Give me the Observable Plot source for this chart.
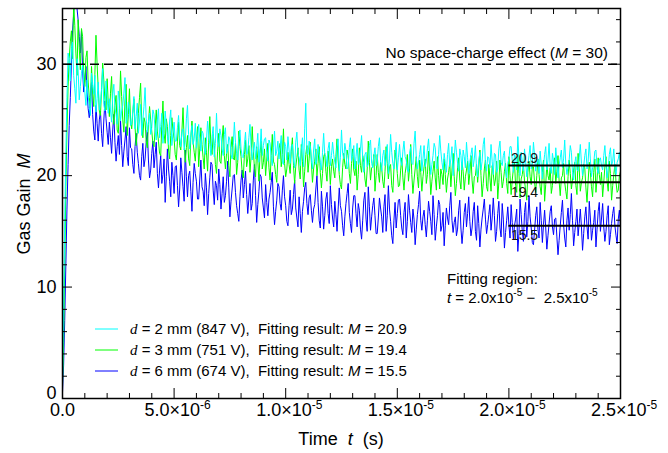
<!DOCTYPE html>
<html><head><meta charset="utf-8">
<script src="https://cdn.jsdelivr.net/npm/d3@7"></script>
<script src="https://cdn.jsdelivr.net/npm/@observablehq/plot@0.6"></script>
<style>
html,body{margin:0;padding:0;background:#fff;}
#chart svg{display:block;}
</style></head><body><div id="chart"></div>
<script>
// ---- data ----
const timeStep = 5e-8; // sampling interval of the traces (s)

const cyan2mm = [1.5,8,16,22,27,31,30.5,28.5,31.5,32,29,27.8,26.5,30.5,29.5,26.8,28,29.2,30,28.4,27.5,26.3,
28.6,27.2,26.1,25.4,29.2,28.1,27.3,29.0,25.7,26.9,28.4,25.9,26.5,27.8,29.6,26.4,25.8,28.5,27.0,25.6,
26.9,25.9,24.8,27.3,28.2,26.1,25.5,24.6,27.6,26.8,24.9,25.8,26.3,27.4,28.8,24.7,25.1,26.6,26.0,24.5,
24.6,25.8,27.1,24.2,25.3,26.5,23.8,24.9,26.4,23.6,25.0,26.2,27.9,25.1,23.9,24.8,25.6,23.7,24.3,25.9,
25.5,24.1,23.2,25.0,26.0,23.4,24.4,25.6,22.9,24.0,25.8,24.6,23.6,22.8,24.9,25.9,22.7,23.8,24.8,23.1,
23.1,24.3,25.4,23.5,22.6,23.9,24.2,22.3,23.0,25.1,26.3,23.7,22.4,23.6,24.5,22.8,23.3,24.7,22.5,23.4,
24.6,23.3,22.2,24.0,23.8,22.5,21.9,23.1,24.9,23.6,22.8,21.8,23.5,24.4,21.7,22.9,25.6,23.0,22.6,24.2,
23.6,22.4,21.8,23.7,24.3,22.0,22.3,23.5,23.2,21.9,21.5,22.7,24.8,23.0,22.0,21.4,23.4,24.1,22.4,21.7,
21.6,22.8,23.9,21.9,22.1,23.4,24.6,22.6,21.4,22.3,23.0,21.5,22.5,23.8,21.2,22.4,24.2,21.8,22.7,23.3,
23.4,22.1,21.3,23.2,22.9,21.6,20.9,22.5,24.0,21.8,22.2,23.1,21.5,22.6,23.6,21.2,21.0,23.0,22.6,21.4,
23.5,22.3,21.1,22.6,22.8,21.4,20.7,23.0,23.9,22.0,21.6,20.9,22.3,23.4,20.8,24.2,26.5,22.1,21.9,23.1,
22.7,21.5,20.6,22.3,23.3,21.0,21.4,22.8,22.0,21.2,20.5,22.1,23.8,21.9,21.7,20.8,22.4,23.0,20.9,21.8,
23.0,21.9,21.2,20.7,22.6,23.3,20.4,21.6,24.1,22.0,21.5,22.9,22.2,20.6,20.8,22.5,23.4,21.3,21.8,22.7,
20.6,21.7,22.9,21.0,21.3,22.4,23.6,21.5,20.3,21.9,22.1,20.8,21.0,22.7,23.2,21.1,20.7,21.8,22.5,20.9,
21.2,22.6,23.4,21.4,20.4,21.8,22.3,20.9,21.6,22.8,20.2,21.5,23.7,22.1,21.1,20.6,22.0,23.0,20.5,21.6,
22.8,21.3,20.9,22.2,23.1,21.7,21.4,20.5,20.3,22.0,22.6,21.1,21.0,22.9,24.0,21.6,20.6,21.2,21.9,22.7,
20.4,21.5,22.7,20.8,21.3,22.4,23.3,21.6,20.1,21.0,21.8,22.9,22.5,20.7,20.6,21.9,23.6,22.2,21.2,20.5,
22.0,21.1,20.3,21.9,22.9,20.8,21.5,22.6,20.0,21.3,23.2,22.1,21.1,20.4,22.4,21.8,20.5,22.3,21.7,20.7,
23.0,21.6,20.2,21.2,21.9,22.5,20.8,21.5,22.7,20.6,19.9,21.4,22.1,20.5,21.3,22.8,23.4,21.0,20.4,21.7,
21.6,20.7,22.8,21.3,20.1,22.0,21.9,20.3,20.6,22.4,23.1,21.2,20.9,21.8,22.2,20.4,19.8,21.1,21.5,22.6,
22.6,21.4,20.3,21.9,21.7,20.5,23.5,21.6,20.0,22.1,21.2,20.4,22.4,21.3,19.9,20.9,21.8,22.7,20.6,21.0,
23.0,21.8,20.4,21.1,21.5,20.2,22.2,21.0,19.7,20.9,21.9,22.6,20.5,21.4,22.9,20.8,20.2,22.0,21.3,20.1,
22.5,21.2,19.8,20.9,21.6,22.3,20.7,21.5,23.2,21.0,20.1,20.8,21.4,22.7,22.1,20.3,19.6,21.1,21.7,20.5,
20.4,21.6,22.8,21.1,20.0,20.8,21.8,22.4,20.6,21.3,23.0,21.5,19.9,20.7,21.1,22.2,22.3,20.6,20.2,21.4,
21.6,20.9,20.5,21.8,22.7,21.0,19.8,20.7,21.9,22.5,20.9,21.3,22.4,20.6,20.1,21.2,21.5,22.1,20.8];

const green3mm = [1.0,5,12,19,24,28,30.5,32,33,30.5,35.5,33.5,31,29.0,34,31.5,29.5,33.2,32.5,29.4,28,30.6,
31.2,28.4,27.0,26.1,29.8,27.5,26.2,29.1,32.6,30.0,27.9,25.8,25.4,27.7,30.1,28.6,26.8,25.9,28.7,26.5,
25.3,27.4,28.9,25.9,24.6,26.3,27.2,24.1,23.8,26.0,29.4,27.1,25.0,23.9,26.7,28.2,23.6,25.5,27.8,24.9,
24.2,25.6,26.9,24.4,22.7,23.9,25.6,27.0,28.3,24.7,23.4,25.2,24.8,23.1,22.5,24.6,26.2,25.0,24.0,22.9,
22.6,24.2,25.9,24.0,23.1,22.0,21.8,24.6,26.7,23.8,22.9,25.1,24.4,22.3,21.5,23.6,25.2,24.1,23.3,21.9,
21.4,23.1,24.8,22.7,22.3,24.0,26.1,23.2,21.2,22.5,23.6,21.5,20.9,23.4,24.9,23.0,22.1,21.3,23.0,24.4,
20.8,22.4,24.3,22.8,21.6,20.6,23.4,22.1,20.4,23.0,25.3,22.6,21.9,23.7,22.7,21.0,20.2,22.2,23.8,21.3,
21.1,23.2,24.5,21.8,20.6,22.0,22.8,20.9,19.9,22.5,23.5,21.6,21.4,22.9,20.1,21.2,24.0,22.6,21.7,20.3,
19.8,21.9,23.2,20.8,21.5,22.7,20.3,21.7,24.4,22.2,20.7,19.9,22.6,21.4,19.5,22.0,23.1,20.6,21.2,22.4,
20.0,21.4,22.9,20.7,19.6,21.8,23.7,21.3,21.0,20.1,19.4,21.6,22.4,22.9,20.8,21.9,24.2,21.1,19.9,20.6,
22.1,21.0,20.2,22.2,23.4,20.9,19.3,20.8,21.6,22.5,20.5,19.7,22.8,21.3,19.0,20.4,21.9,22.7,20.3,21.5,
23.0,21.2,19.4,20.6,21.3,22.4,20.0,21.1,22.6,20.3,18.9,20.2,21.7,22.0,20.4,19.5,22.2,21.0,19.2,20.8,
21.5,20.4,19.8,21.7,23.3,21.4,20.1,19.2,18.8,20.7,22.0,21.0,20.6,22.3,21.8,20.2,19.3,21.1,22.4,20.5,
20.0,21.3,18.7,20.1,22.5,20.9,20.3,21.8,21.2,19.7,19.0,20.5,23.1,21.2,19.6,20.7,20.8,21.9,18.6,20.0,
21.9,20.3,19.4,21.2,20.7,19.5,18.9,20.4,22.6,21.1,19.7,20.8,21.0,19.1,18.5,20.6,22.3,21.4,20.2,19.0,
19.1,20.5,21.6,19.8,18.7,20.2,20.9,21.9,19.5,20.6,22.8,20.1,18.4,19.6,20.6,21.7,19.9,18.9,21.4,20.3,
18.6,19.9,20.8,21.5,19.3,20.1,22.2,20.4,18.3,19.5,20.4,21.3,19.8,18.7,21.7,20.0,18.8,20.6,20.1,19.2,
21.5,20.1,18.5,19.7,20.3,21.2,19.0,20.5,22.0,19.9,18.2,19.3,20.7,21.6,19.6,18.8,21.2,20.4,18.7,19.9,
20.5,21.3,19.2,20.2,21.8,19.6,18.4,19.9,20.0,21.0,19.4,20.7,22.3,20.0,18.1,19.3,20.6,21.4,19.0,18.6,
21.0,19.8,18.6,20.9,20.2,19.1,19.7,21.3,17.9,19.4,21.4,20.3,18.9,19.5,20.4,21.1,19.3,18.4,21.7,20.0,
18.3,19.6,20.6,21.2,19.1,18.5,21.9,20.2,18.0,19.7,20.1,21.0,19.5,18.7,17.8,20.3,21.3,19.9,19.2,20.8,
20.8,19.4,18.5,20.0,21.5,20.1,19.0,18.3,20.3,21.4,17.7,19.2,21.1,20.0,19.6,20.7,18.4,19.1,20.9,21.6,
19.3,20.4,21.8,19.5,18.2,19.8,20.0,21.1,19.4,18.6,17.9,19.9,21.4,20.2,18.8,19.6,20.5,21.2,19.1,18.3,
22.0,20.6,18.6,19.4,19.8,21.0,20.7,18.9,17.6,19.5,21.2,20.3,19.0,18.1,20.3,21.5,18.5,19.7,21.6,20.1,
19.2,20.3,18.1,19.4,20.8,21.7,19.5,18.6,21.3,20.2,17.8,19.1,20.1,21.0,19.4,18.5,18.7,20.0,20.4];

const blue6mm = [0.5,3,7,12,17,21,24.5,27,30,33,34.5,36.5,36,35,34,32.5,31,33,29.5,27.5,28.5,29.8,
27.5,26.0,25.2,27.1,28.4,25.5,24.0,23.2,26.3,24.7,23.1,25.0,25.8,23.8,22.6,24.9,26.7,25.1,23.9,22.8,
24.8,23.4,22.0,24.1,25.5,23.0,21.3,22.6,23.6,21.9,24.9,22.7,20.8,22.2,23.2,24.4,21.7,20.9,24.3,22.5,
22.4,21.0,20.2,22.6,23.8,22.1,21.1,20.0,19.6,21.7,22.9,20.8,21.5,23.0,24.1,21.4,19.8,20.5,22.0,23.1,
20.7,21.9,23.0,20.2,18.9,20.5,21.8,19.3,20.1,21.5,17.6,19.9,22.4,20.6,19.5,18.1,21.2,20.0,18.4,20.8,
20.9,19.1,17.2,18.8,21.6,20.3,19.0,17.7,22.3,19.9,18.1,20.0,20.4,18.6,16.8,19.4,21.1,20.2,19.5,17.9,
17.9,19.7,21.4,19.0,18.6,17.3,20.2,18.9,16.5,18.4,19.8,21.2,21.0,18.7,17.4,19.5,19.1,17.8,20.6,19.2,
17.0,18.4,19.9,17.6,18.2,19.5,21.3,18.9,16.3,17.7,18.8,20.0,20.1,18.5,17.3,16.6,15.9,18.1,19.6,20.5,
18.0,19.2,20.4,18.3,16.6,17.9,19.3,16.9,17.5,19.6,21.0,18.2,15.8,17.4,18.6,20.1,19.9,18.0,17.1,16.2,
19.2,17.6,16.4,17.9,18.5,19.4,20.3,17.2,15.6,16.8,17.8,19.3,19.0,17.5,16.9,18.7,20.0,18.1,17.3,15.9,
15.5,17.3,18.7,16.5,17.0,18.3,19.6,17.1,16.2,15.4,18.1,16.6,14.9,16.8,17.7,18.9,19.4,17.5,16.5,18.0,
18.3,16.9,15.8,17.0,17.4,18.8,20.0,17.6,16.0,15.3,18.6,17.2,15.2,16.4,17.9,18.5,16.6,15.7,19.1,17.4,
16.2,15.4,17.7,16.5,15.0,17.0,18.9,17.3,16.8,15.5,14.6,16.3,17.5,18.4,19.3,16.7,15.7,14.9,17.1,18.2,
18.2,16.6,15.4,17.5,16.9,15.2,14.3,16.0,17.8,18.5,16.1,15.0,19.0,17.2,15.1,16.3,17.3,18.0,16.4,14.8,
14.8,16.2,18.0,17.1,16.3,14.9,17.2,18.3,15.0,16.4,19.1,17.0,15.9,14.6,13.9,16.0,17.6,15.3,16.6,17.8,
17.9,16.4,15.3,14.7,16.7,17.6,14.4,15.9,18.3,16.9,15.8,14.9,17.0,16.1,13.8,15.2,16.5,17.4,18.6,16.0,
15.1,16.3,16.9,15.6,14.5,16.0,17.7,16.8,15.9,14.7,18.2,16.5,14.2,15.4,16.4,17.8,17.4,15.0,15.5,16.7,
13.7,15.5,17.1,16.2,15.6,17.3,18.5,16.0,14.9,15.8,16.3,14.6,15.2,16.9,17.8,15.3,13.9,15.1,16.7,17.5,
15.4,16.6,18.1,15.9,14.6,15.3,16.8,17.6,15.0,14.2,17.3,15.7,13.6,15.2,16.2,17.0,17.9,16.1,14.8,15.6,
16.5,17.4,15.1,16.2,18.0,16.4,14.1,15.0,16.6,17.7,15.3,14.5,17.5,16.1,13.5,14.9,16.0,17.2,15.6,14.4,
17.4,15.8,14.3,15.5,16.1,17.0,13.2,14.8,17.9,16.5,15.0,14.1,16.7,17.6,14.5,15.9,18.2,16.3,15.3,14.0,
13.8,15.1,16.4,17.2,15.2,14.4,17.6,16.0,14.0,15.6,16.9,15.3,13.4,14.6,15.7,16.8,17.3,15.4,14.7,16.1,
16.2,14.5,12.9,14.2,15.5,16.7,17.8,15.6,14.4,13.6,16.0,17.1,15.1,16.5,18.4,16.0,13.7,14.9,15.9,17.0,
14.6,15.7,17.0,15.4,13.3,14.8,16.3,17.2,15.4,14.3,17.7,16.2,14.2,15.1,15.8,16.9,13.6,15.2,16.8,17.6,
15.0,16.2,17.5,15.4,14.1,15.0,16.4,17.3,13.8,14.7,15.7,16.6,17.2,15.5,14.6,13.9,16.1,16.9,15.3];

const seriesColors = ["#00ffff", "#00ff00", "#0000ff"];   // d = 2, 3, 6 mm
const gapsMm = ["2", "3", "6"];
const voltages = ["847", "751", "674"];
const fitValues = [20.9, 19.4, 15.5];
const fitRange = [2.0e-5, 2.5e-5];
const noSpaceChargeGain = [30];

const xDomain = [0, 2.5e-5];
const yDomain = [0, 35];
const xMajorTicks = [0, 5e-6, 1e-5, 1.5e-5, 2e-5, 2.5e-5];
const xTickBase = ["0.0", "5.0×10", "1.0×10", "1.5×10", "2.0×10", "2.5×10"];
const xTickExp = ["", "-6", "-5", "-5", "-5", "-5"];
const xMinorTicks = [1e-6,2e-6,3e-6,4e-6,6e-6,7e-6,8e-6,9e-6,1.1e-5,1.2e-5,1.3e-5,1.4e-5,
  1.6e-5,1.7e-5,1.8e-5,1.9e-5,2.1e-5,2.2e-5,2.3e-5,2.4e-5];
const yMajorTicks = [0, 10, 20, 30];
const yMinorTicks = [2,4,6,8,12,14,16,18,22,24,26,28,32,34];

// ---- build ----
const xTickRows = xMajorTicks.map((t, i) => ({t, base: xTickBase[i], exp: xTickExp[i]}));
const traces = [
  {values: blue6mm, color: seriesColors[2]},
  {values: green3mm, color: seriesColors[1]},
  {values: cyan2mm, color: seriesColors[0]}
];
const FONT = "'Liberation Sans', Arial, Helvetica, sans-serif";
const blank = () => "";

const marks = [];
for (const s of traces) {
  marks.push(Plot.line(s.values, {x: (d, i) => i * timeStep, y: d => d, stroke: s.color, strokeWidth: 1, clip: true}));
}
marks.push(
  Plot.ruleY(noSpaceChargeGain, {stroke: "black", strokeWidth: 1.5, strokeDasharray: "9,5"}),
  Plot.ruleY(fitValues, {y: d => d, x1: () => fitRange[0], x2: () => fitRange[1], stroke: "black", strokeWidth: 2}),
  Plot.text(fitValues.slice(0, 1), {x: () => fitRange[0], y: d => d, text: d => d.toFixed(1), textAnchor: "start", dx: 2, dy: -7, fontSize: 14, fill: "#111"}),
  Plot.text(fitValues.slice(1), {x: () => fitRange[0], y: d => d, text: d => d.toFixed(1), textAnchor: "start", dx: 2, dy: 10, fontSize: 14, fill: "#111"}),
  // inward ticks on all four sides
  Plot.axisX(xMinorTicks, {anchor: "bottom", tickSize: -5, tickFormat: blank, label: null}),
  Plot.axisX(xMajorTicks, {anchor: "bottom", tickSize: -10, tickFormat: blank, label: null}),
  Plot.axisX(xMinorTicks, {anchor: "top", tickSize: -5, tickFormat: blank, label: null}),
  Plot.axisX(xMajorTicks, {anchor: "top", tickSize: -10, tickFormat: blank, label: null}),
  Plot.axisY(yMinorTicks, {anchor: "left", tickSize: -5, tickFormat: blank, label: null}),
  Plot.axisY(yMajorTicks, {anchor: "left", tickSize: -10, tickFormat: blank, label: null}),
  Plot.axisY(yMinorTicks, {anchor: "right", tickSize: -5, tickFormat: blank, label: null}),
  Plot.axisY(yMajorTicks, {anchor: "right", tickSize: -10, tickFormat: blank, label: null}),
  // tick labels
  Plot.axisY(yMajorTicks.filter(d => d > 0), {anchor: "left", tickSize: 0, tickPadding: 6, fontSize: 18, tickFormat: d => String(d), label: null}),
  Plot.axisY(yMajorTicks.filter(d => d === 0), {anchor: "left", tickSize: 0, tickPadding: 6, dy: -5, fontSize: 18, tickFormat: d => String(d), label: null}),
  Plot.text(xTickRows.filter(d => !d.exp), {x: "t", text: "base", frameAnchor: "bottom", dy: 17, fontSize: 18}),
  Plot.text(xTickRows.filter(d => d.exp), {x: "t", text: "base", frameAnchor: "bottom", textAnchor: "end", dx: 26, dy: 17, fontSize: 18}),
  Plot.text(xTickRows.filter(d => d.exp), {x: "t", text: "exp", frameAnchor: "bottom", textAnchor: "start", dx: 26, dy: 10, fontSize: 12}),
  Plot.frame({stroke: "black", strokeWidth: 1.5})
);

const plot = Plot.plot({
  width: 668, height: 453,
  marginLeft: 62, marginRight: 48, marginTop: 8, marginBottom: 55,
  x: {domain: xDomain},
  y: {domain: yDomain},
  style: {fontFamily: FONT, fontSize: "15px", background: "#fff", color: "#000"},
  marks
});
document.getElementById("chart").append(plot);

// ---- rich-text annotations (mixed italic / superscripts) ----
const svg = d3.select(plot);
const xs = plot.scale("x"), ys = plot.scale("y");
function rich(x, y, parts, {anchor = "start", size = 15, rotate = null} = {}) {
  const t = svg.append("text").attr("x", x).attr("y", y).attr("text-anchor", anchor)
    .attr("font-size", size).attr("font-family", FONT).attr("fill", "black").style("white-space", "pre");
  if (rotate !== null) t.attr("transform", `rotate(${rotate},${x},${y})`);
  let shift = 0;
  for (const p of parts) {
    const s = t.append("tspan").text(p.t);
    if (p.i) s.attr("font-style", "italic");
    if (p.serif) s.attr("font-family", "'Liberation Serif', 'DejaVu Serif', serif");
    const want = p.sup ? -p.sup : 0;
    if (want !== shift) { s.attr("dy", want - shift); shift = want; }
    if (p.sup) s.attr("font-size", size * 0.68);
  }
  return t;
}

// axis titles
rich(30, 204, [{t: "Gas Gain  "}, {t: "M", i: true}], {anchor: "middle", size: 18, rotate: -90});
rich(341, 445, [{t: "Time  "}, {t: "t", i: true}, {t: "  (s)"}], {anchor: "middle", size: 18});

// dashed-line label
rich(xs.apply(xDomain[1]) - 12, ys.apply(noSpaceChargeGain[0]) - 6,
  [{t: "No space-charge effect ("}, {t: "M", i: true}, {t: " = 30)"}], {anchor: "end", size: 15.5});

// fitting region note
rich(447, 284, [{t: "Fitting region:"}], {size: 15});
rich(447, 303, [{t: "t", i: true}, {t: " = 2.0x10"}, {t: "-5", sup: 7}, {t: " −  2.5x10"}, {t: "-5", sup: 7}], {size: 15});

// legend
const legendRows = [329, 350, 371];
legendRows.forEach((y, k) => {
  svg.append("line").attr("x1", 95).attr("x2", 118).attr("y1", y).attr("y2", y)
    .attr("stroke", seriesColors[k]).attr("stroke-width", 1);
  rich(130, y + 5, [
    {t: "d", i: true, serif: true},
    {t: ` = ${gapsMm[k]} mm (${voltages[k]} V),  Fitting result: `},
    {t: "M", i: true},
    {t: ` = ${fitValues[k].toFixed(1)}`}
  ], {size: 15});
});
</script>
</body></html>
